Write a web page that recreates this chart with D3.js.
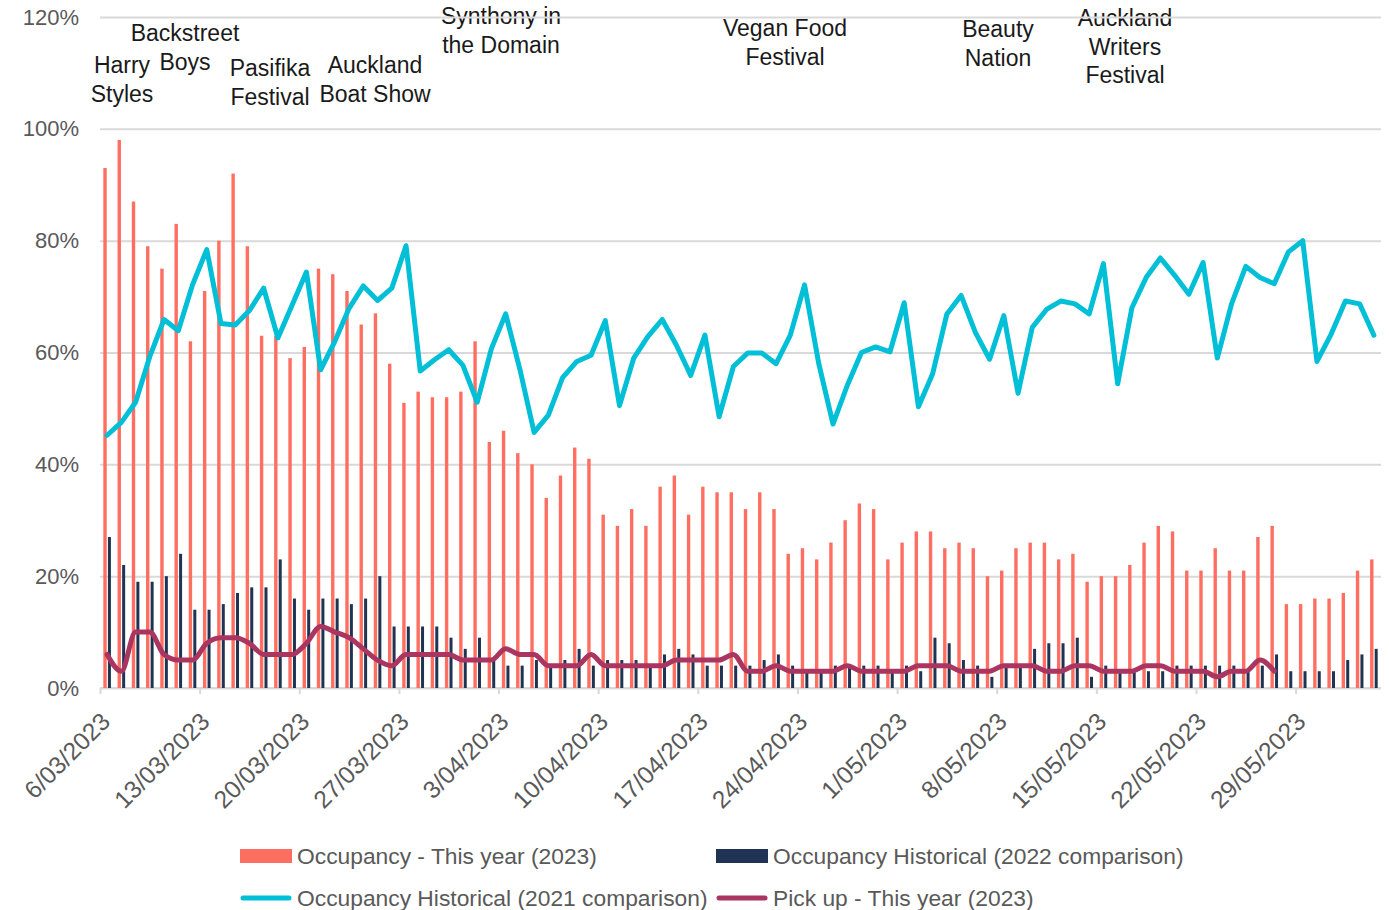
<!DOCTYPE html>
<html>
<head>
<meta charset="utf-8">
<script src="https://cdn.jsdelivr.net/npm/d3@7/dist/d3.min.js"></script>
<style>
  body { margin: 0; background: #fff; }
  svg text { font-family: "Liberation Sans", Arial, sans-serif; }
</style>
</head>
<body>
<div id="chart"></div>
<script>
// Daily data, 6/03/2023 - 3/06/2023 (values in %)
const startDate = new Date(2023, 2, 6);
const dayCount = 90;

const occ2023 = [
  93, 98, 87, 79, 75, 83, 62, 71, 80, 92, 79, 63, 63, 59, 61,
  75, 74, 71, 65, 67, 58, 51, 53, 52, 52, 53, 62, 44, 46, 42,
  40, 34, 38, 43, 41, 31, 29, 32, 29, 36, 38, 31, 36, 35, 35,
  32, 35, 32, 24, 25, 23, 26, 30, 33, 32, 23, 26, 28, 28, 25,
  26, 25, 20, 21, 25, 26, 26, 23, 24, 19, 20, 20, 22, 26, 29,
  28, 21, 21, 25, 21, 21, 27, 29, 15, 15, 16, 16, 17, 21, 23
];

const occ2022 = [
  27, 22, 19, 19, 20, 24, 14, 14, 15, 17, 18, 18, 23, 16, 14,
  16, 16, 15, 16, 20, 11, 11, 11, 11, 9, 7, 9, 5, 4, 4,
  5, 4, 5, 7, 4, 5, 5, 5, 4, 6, 7, 6, 4, 4, 4,
  4, 5, 6, 4, 3, 3, 4, 4, 4, 4, 3, 4, 3, 9, 8,
  5, 4, 2, 4, 4, 7, 8, 8, 9, 2, 4, 3, 3, 3, 3,
  4, 4, 4, 4, 4, 3, 4, 6, 3, 3, 3, 3, 5, 6, 7
];

const occ2021 = [
  45.2, 47.5, 51.1, 59.3, 65.9, 63.9, 72.1, 78.4, 65.2, 64.9, 67.5, 71.5, 62.6, 68.5, 74.4,
  56.9, 62, 67.9, 71.9, 69.3, 71.5, 79.1, 56.7, 58.7, 60.5, 57.7, 51.1, 60.7, 66.9, 57,
  45.7, 48.8, 55.5, 58.4, 59.5, 65.7, 50.5, 59, 62.9, 65.9, 61.3, 55.9, 63.1, 48.5, 57.5,
  59.9, 59.9, 58, 63.1, 72.1, 58, 47.2, 54.1, 60, 61, 60.1, 68.9, 50.3, 56.2, 66.9,
  70.2, 63.6, 58.8, 66.6, 52.7, 64.5, 67.7, 69.2, 68.7, 66.9, 75.9, 54.4, 68, 73.4, 76.9,
  73.8, 70.4, 76.1, 59, 68.7, 75.4, 73.4, 72.3, 78, 80, 58.4, 63.3, 69.2, 68.7, 63.1
];

const pickup2023 = [
  6, 3, 10, 10, 6, 5, 5, 8, 9, 9, 8, 6, 6, 6, 8,
  11, 10, 9, 7, 5, 4, 6, 6, 6, 6, 5, 5, 5, 7, 6,
  6, 4, 4, 4, 6, 4, 4, 4, 4, 4, 5, 5, 5, 5, 6,
  3, 3, 4, 3, 3, 3, 3, 4, 3, 3, 3, 3, 4, 4, 4,
  3, 3, 3, 4, 4, 4, 3, 3, 4, 4, 3, 3, 3, 4, 4,
  3, 3, 3, 2, 3, 3, 5, 3, null, null, null, null, null, null, null
];

const yTicks = [0, 20, 40, 60, 80, 100, 120];

const seriesNames = [
  "Occupancy - This year (2023)",
  "Occupancy Historical (2022 comparison)",
  "Occupancy Historical (2021 comparison)",
  "Pick up - This year (2023)"
];

const events = [
  ["Harry", "Styles"],
  ["Backstreet", "Boys"],
  ["Pasifika", "Festival"],
  ["Auckland", "Boat Show"],
  ["Synthony in", "the Domain"],
  ["Vegan Food", "Festival"],
  ["Beauty", "Nation"],
  ["Auckland", "Writers", "Festival"]
];

// Layout
const [w, h] = [1389, 910];
const plotL = 100, plotR = 1381, plotT = 17, plotB = 688;

// Colours
const redColor = "#ff6f61";
const navyColor = "#1f3352";
const tealColor = "#00bfd6";
const pickColor = "#a93560";
const gridColor = "#d9d9d9";
const textColor = "#595959";

const dates = d3.range(dayCount).map(i => d3.timeDay.offset(startDate, i));

const x = d3.scaleTime()
  .domain([startDate, d3.timeDay.offset(startDate, dayCount)])
  .range([plotL, plotR]);

const y = d3.scaleLinear()
  .domain([0, 120])
  .range([plotB, plotT]);

const dayW = x(dates[1]) - x(dates[0]);
const cx = i => x(dates[i]) + dayW / 2;

const svg = d3.select("#chart")
  .append("svg")
  .attr("width", w)
  .attr("height", h);

// Event annotations (drawn under gridlines like the original)
const eventPos = [
  [122, 65], [185, 33], [270, 68], [375, 65],
  [501, 16], [785, 28], [998, 29], [1125, 18]
];

events.forEach((lines, k) => {
  const t = svg.append("text")
    .attr("text-anchor", "middle")
    .attr("font-size", 23)
    .attr("fill", "#1a1a1a");
  lines.forEach((ln, j) => {
    t.append("tspan")
      .attr("x", eventPos[k][0])
      .attr("y", eventPos[k][1] + j * 28.5)
      .attr("dy", "0.35em")
      .text(ln);
  });
});

// Gridlines + y labels
const yAxis = d3.axisLeft(y)
  .tickValues(yTicks)
  .tickSize(-(plotR - plotL))
  .tickFormat(d => d + "%");

const gy = svg.append("g")
  .attr("transform", `translate(${plotL},0)`)
  .call(yAxis);
gy.select(".domain").remove();
gy.selectAll(".tick line")
  .attr("stroke", gridColor)
  .attr("stroke-width", 2);
gy.selectAll(".tick text")
  .attr("x", -21)
  .attr("font-size", 22)
  .attr("fill", textColor);

// X axis
const weekTicks = d3.range(0, dayCount, 7).map(i => dates[i]);
const xAxis = d3.axisBottom(x)
  .tickValues(weekTicks)
  .tickSize(6)
  .tickFormat(d3.timeFormat("%-d/%m/%Y"));

const gx = svg.append("g")
  .attr("transform", `translate(0,${plotB})`)
  .call(xAxis);
gx.select(".domain")
  .attr("stroke", gridColor)
  .attr("stroke-width", 2)
  .attr("d", `M${plotL},0H${plotR}`);
gx.selectAll(".tick line")
  .attr("stroke", gridColor)
  .attr("stroke-width", 2);
gx.selectAll(".tick text")
  .attr("font-size", 24.5)
  .attr("fill", textColor)
  .attr("text-anchor", "end")
  .attr("y", 0)
  .attr("dy", "0.35em")
  .attr("transform", "translate(5,29) rotate(-45)");

// Bars
svg.append("g")
  .selectAll("rect")
  .data(occ2023)
  .enter()
  .append("rect")
  .attr("x", (d, i) => cx(i) - 3.8)
  .attr("width", 3.4)
  .attr("y", d => y(d))
  .attr("height", d => plotB - y(d))
  .attr("fill", redColor);

svg.append("g")
  .selectAll("rect")
  .data(occ2022)
  .enter()
  .append("rect")
  .attr("x", (d, i) => cx(i) + 0.8)
  .attr("width", 3)
  .attr("y", d => y(d))
  .attr("height", d => plotB - y(d))
  .attr("fill", navyColor);

// Lines
const line = d3.line()
  .defined(d => d != null)
  .x((d, i) => cx(i))
  .y(d => y(d));

svg.append("path")
  .datum(occ2021)
  .attr("d", line)
  .attr("fill", "none")
  .attr("stroke", tealColor)
  .attr("stroke-width", 5)
  .attr("stroke-linejoin", "round")
  .attr("stroke-linecap", "round");

svg.append("path")
  .datum(pickup2023)
  .attr("d", line.curve(d3.curveMonotoneX))
  .attr("fill", "none")
  .attr("stroke", pickColor)
  .attr("stroke-width", 5)
  .attr("stroke-linejoin", "round")
  .attr("stroke-linecap", "round");

// Legend
const legendPos = [[240, 856], [716, 856], [240, 898], [716, 898]];
const legendKind = ["bar", "bar", "line", "line"];
const legendColor = [redColor, navyColor, tealColor, pickColor];

seriesNames.forEach((name, k) => {
  const [lx, ly] = legendPos[k];
  if (legendKind[k] === "bar") {
    svg.append("rect")
      .attr("x", lx)
      .attr("y", ly - 7)
      .attr("width", 52)
      .attr("height", 14)
      .attr("fill", legendColor[k]);
  } else {
    svg.append("line")
      .attr("x1", lx + 3)
      .attr("x2", lx + 49)
      .attr("y1", ly)
      .attr("y2", ly)
      .attr("stroke", legendColor[k])
      .attr("stroke-width", 5)
      .attr("stroke-linecap", "round");
  }
  svg.append("text")
    .attr("x", lx + 57)
    .attr("y", ly)
    .attr("dy", "0.35em")
    .attr("font-size", 22.8)
    .attr("fill", textColor)
    .text(name);
});
</script>
</body>
</html>
